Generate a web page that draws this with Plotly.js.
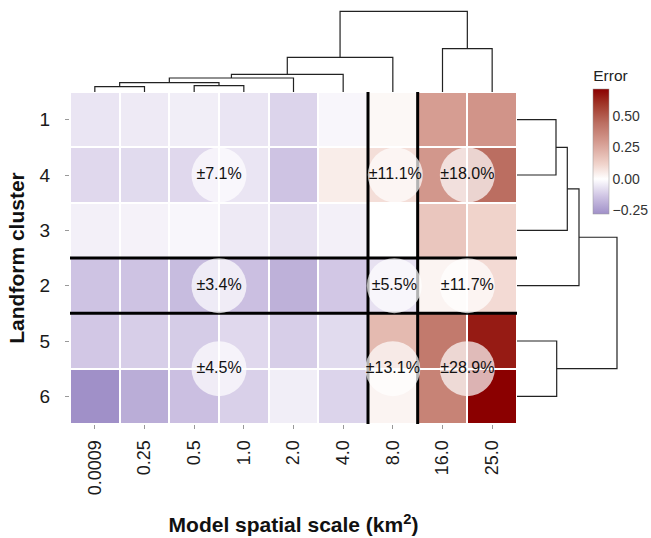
<!DOCTYPE html>
<html>
<head>
<meta charset="utf-8">
<script src="https://cdn.plot.ly/plotly-3.0.1.min.js"></script>
<style>html,body{margin:0;padding:0;background:#fff;}#chart{width:651px;height:538px;}</style>
</head>
<body>
<div id="chart"></div>
<script>
// ---------------- data ----------------
const colLabels = ["0.0009","0.25","0.5","1.0","2.0","4.0","8.0","16.0","25.0"];
const rowLabels = ["1","4","3","2","5","6"];

// error values, one array per landform cluster (row order top to bottom)
const row1 = [-0.06, -0.05, -0.04, -0.06, -0.10, -0.02, 0.02, 0.29, 0.32];
const row4 = [-0.09, -0.085, -0.09, -0.06, -0.14, 0.05, 0.09, 0.31, 0.45];
const row3 = [-0.035, -0.03, -0.02, -0.05, -0.07, -0.035, 0.00, 0.16, 0.12];
const row2 = [-0.14, -0.14, -0.16, -0.15, -0.19, -0.13, -0.07, 0.03, 0.10];
const row5 = [-0.13, -0.115, -0.12, -0.09, -0.115, -0.085, 0.20, 0.41, 0.66];
const row6 = [-0.28, -0.20, -0.15, -0.11, -0.04, -0.10, 0.03, 0.38, 0.72];

// group summaries (circle labels) : position in the grid (column idx, row idx)
const circleLabels = ["±7.1%","±11.1%","±18.0%","±3.4%","±5.5%","±11.7%","±4.5%","±13.1%","±28.9%"];
const circleCol = [2.5, 6.05, 7.5, 2.5, 6.03, 7.5, 2.5, 6.0, 7.5];
const circleRow = [1, 1, 1, 3, 3, 3, 4.5, 4.5, 4.5];

// group boundaries
const colBreaks = [5.5, 6.5];
const rowBreaks = [2.5, 3.5];

// column dendrogram: [childA, childB]; negative = leaf index (-(i+1)), positive = merge number (1-based)
const colMerge = [[-1,-2],[-3,-4],[1,2],[3,-5],[4,-6],[5,-7],[-8,-9],[6,7]];
const colHeight = [5.3, 6.3, 9.3, 14, 17.7, 34.7, 43.3, 80.7];
// row dendrogram
const rowMerge = [[-1,-2],[1,-3],[2,-4],[-5,-6],[3,4]];
const rowHeight = [39, 50.3, 62, 39.7, 100];

// ---------------- helpers ----------------
function dendroSegments(merge, heights){
  const pos = [], hts = [];
  const a = [], b = [];
  const getP = id => id < 0 ? -id - 1 : pos[id-1];
  const getH = id => id < 0 ? 0 : hts[id-1];
  merge.forEach((m, i) => {
    const p1 = getP(m[0]), p2 = getP(m[1]);
    const h1 = getH(m[0]), h2 = getH(m[1]);
    const h = heights[i];
    a.push(p1, p1, p2, p2, null);
    b.push(h1, h, h, h2, null);
    pos.push((p1+p2)/2); hts.push(h);
  });
  return {pos: a, h: b};
}

const z = [row1, row4, row3, row2, row5, row6];
const xIdx = colLabels.map((_, i) => i);
const yIdx = rowLabels.map((_, i) => i);

const colorscale = [
  [0.00, "#a090c8"],
  [0.14, "#cec3e3"],
  [0.28, "#ffffff"],
  [0.40, "#f0d3cb"],
  [0.58, "#d49a8f"],
  [0.73, "#bb6e61"],
  [0.88, "#a03628"],
  [1.00, "#8b0000"]
];

const FONT = "Liberation Sans, Arial, Helvetica, sans-serif";

const heat = {
  type: "heatmap", x: xIdx, y: yIdx, z: z,
  zmin: -0.28, zmax: 0.72, colorscale: colorscale,
  xgap: 2, ygap: 2, hoverinfo: "skip",
  colorbar: {
    x: 0.901, xanchor: "left", xref: "paper",
    y: 0.8630, yanchor: "top", yref: "paper",
    lenmode: "pixels", len: 147, thickness: 16,
    xpad: 0, ypad: 0, outlinewidth: 0.5, outlinecolor: "#999",
    tickvals: [-0.25, 0, 0.25, 0.5], ticktext: ["\u22120.25","0.00","0.25","0.50"],
    ticks: "", tickfont: {family: FONT, size: 14, color: "#333"},
    title: {text: "Error", side: "top", font: {family: FONT, size: 15.5, color: "#222"}}
  }
};

// separators
const sepX = [], sepY = [];
colBreaks.forEach(c => { sepX.push(c, c, null); sepY.push(-0.5, 5.5, null); });
rowBreaks.forEach(r => { sepX.push(-0.5, 8.5, null); sepY.push(r, r, null); });
const sep = {type: "scatter", mode: "lines", x: sepX, y: sepY,
  line: {color: "#000", width: 3}, hoverinfo: "skip", showlegend: false, cliponaxis: false};

const circles = {type: "scatter", mode: "markers+text", x: circleCol, y: circleRow,
  text: circleLabels, textposition: "middle center",
  textfont: {family: FONT, size: 16, color: "#111"},
  marker: {size: 55, color: "rgba(255,255,255,0.7)", line: {width: 0}},
  hoverinfo: "skip", showlegend: false, cliponaxis: false};

const cd = dendroSegments(colMerge, colHeight);
const topDendro = {type: "scatter", mode: "lines", x: cd.pos, y: cd.h, xaxis: "x", yaxis: "y2",
  line: {color: "#222", width: 1.2}, hoverinfo: "skip", showlegend: false, cliponaxis: false};

const rd = dendroSegments(rowMerge, rowHeight);
const rightDendro = {type: "scatter", mode: "lines", x: rd.h, y: rd.pos, xaxis: "x3", yaxis: "y",
  line: {color: "#222", width: 1.2}, hoverinfo: "skip", showlegend: false, cliponaxis: false};

const layout = {
  width: 651, height: 538,
  margin: {l: 70, r: 0, t: 10, b: 114},
  paper_bgcolor: "#fff", plot_bgcolor: "#fff",
  showlegend: false,
  font: {family: FONT, color: "#1a1a1a"},
  xaxis: {
    domain: [0, 0.76936], range: [-0.5, 8.5],
    tickvals: xIdx, ticktext: colLabels, tickangle: -90,
    ticks: "outside", ticklen: 4, tickcolor: "#999", tickwidth: 1,
    ticklabelstandoff: 4,
    tickfont: {family: FONT, size: 18, color: "#1a1a1a"},
    showgrid: false, zeroline: false, showline: false, automargin: false,
    title: {text: "<b>Model spatial scale (km<sup>2</sup>)</b>", font: {family: FONT, size: 21, color: "#111"}, standoff: 23}
  },
  yaxis: {
    domain: [0, 0.80193], range: [5.5, -0.5],
    tickvals: yIdx, ticktext: rowLabels,
    ticks: "outside", ticklen: 4, tickcolor: "#999", tickwidth: 1,
    ticklabelstandoff: 11,
    tickfont: {family: FONT, size: 19, color: "#1a1a1a"},
    showgrid: false, zeroline: false, showline: false, automargin: false,
    title: {text: "<b>Landform cluster</b>", font: {family: FONT, size: 21, color: "#111"}, standoff: 9}
  },
  yaxis2: {domain: [0.80193, 1], range: [0, 82], anchor: "x", visible: false, fixedrange: true},
  xaxis3: {domain: [0.76936, 0.94664], range: [0, 103], anchor: "y", visible: false, fixedrange: true}
};

Plotly.newPlot("chart", [heat, sep, circles, topDendro, rightDendro], layout, {displayModeBar: false, staticPlot: true});
</script>
</body>
</html>
